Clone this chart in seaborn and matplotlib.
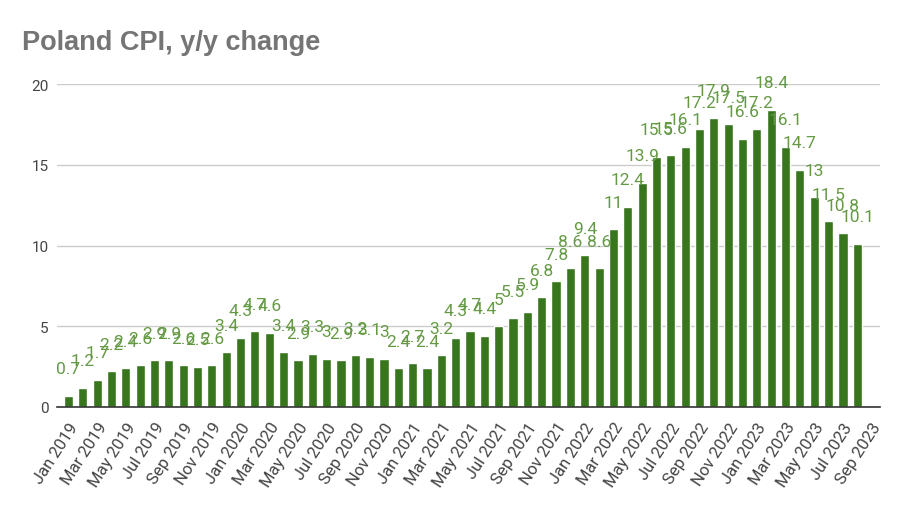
import pandas as pd
import seaborn as sns
import matplotlib.pyplot as plt

# month labels Jan 2019 .. Sep 2023 (Sep 2023 has no value yet)
month_names = ["Jan", "Feb", "Mar", "Apr", "May", "Jun", "Jul", "Aug", "Sep", "Oct", "Nov", "Dec"]
months = [f"{m} {y}" for y in range(2019, 2024) for m in month_names][:57]

cpi_2019 = [0.7, 1.2, 1.7, 2.2, 2.4, 2.6, 2.9, 2.9, 2.6, 2.5, 2.6, 3.4]
cpi_2020 = [4.3, 4.7, 4.6, 3.4, 2.9, 3.3, 3.0, 2.9, 3.2, 3.1, 3.0, 2.4]
cpi_2021 = [2.7, 2.4, 3.2, 4.3, 4.7, 4.4, 5.0, 5.5, 5.9, 6.8, 7.8, 8.6]
cpi_2022 = [9.4, 8.6, 11.0, 12.4, 13.9, 15.5, 15.6, 16.1, 17.2, 17.9, 17.5, 16.6]
cpi_2023 = [17.2, 18.4, 16.1, 14.7, 13.0, 11.5, 10.8, 10.1]

values = cpi_2019 + cpi_2020 + cpi_2021 + cpi_2022 + cpi_2023
df = pd.DataFrame({"month": months[:len(values)], "cpi": values})

bar_color = "#38761d"
label_color = "#659a45"

sns.set_style("white")
plt.rcParams["font.family"] = ["Roboto", "DejaVu Sans"]

fig = plt.figure(figsize=(9, 5.1), dpi=100)
ax = fig.add_axes([0.0633, 0.2, 0.9147, 0.6333])

sns.barplot(data=df, x="month", y="cpi", order=months, color=bar_color,
            saturation=1, width=0.64, errorbar=None, ax=ax)

# data labels above each bar
for i, v in enumerate(values):
    ax.annotate(f"{v:g}", (i, v), xytext=(0, 27), textcoords="offset pixels",
                ha="center", va="center", fontsize=12.5, color=label_color)

ax.set_ylim(0, 20)
ax.set_xlim(-0.8, 56.6)
ax.set_yticks([0, 5, 10, 15, 20])
ax.yaxis.grid(True, color="#cccccc", linewidth=1)
ax.set_axisbelow(True)
ax.set_xticks(range(0, 57, 2))
ax.set_xticklabels(months[::2], rotation=57, ha="right", rotation_mode="anchor")
ax.tick_params(axis="both", length=0, labelcolor="#444444")
ax.tick_params(axis="x", pad=9, labelsize=12)
ax.tick_params(axis="y", pad=6, labelsize=11)
ax.set_xlabel("")
ax.set_ylabel("")
for s in ["top", "right", "left"]:
    ax.spines[s].set_visible(False)
ax.spines["bottom"].set_color("#333333")
ax.spines["bottom"].set_linewidth(1.2)

fig.text(0.024, 0.902, "Poland CPI, y/y change", fontsize=19.5, fontweight="bold",
         color="#757575", family=["Liberation Sans", "DejaVu Sans"], va="baseline")

fig.savefig("out.png", dpi=100, facecolor="white")
